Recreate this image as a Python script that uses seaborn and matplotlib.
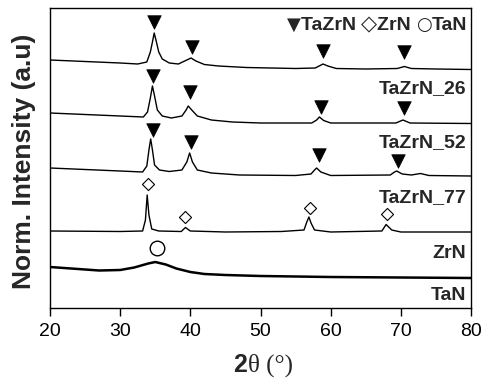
import numpy as np
import pandas as pd
import matplotlib
matplotlib.use("Agg")
import matplotlib.pyplot as plt
import seaborn as sns

# ---------------- data (stacked, arbitrary units) ----------------
x_26 = [20, 25, 30, 32.5, 33.8, 34.3, 34.6, 34.85, 35.1, 35.5, 36.0, 37.0, 38.3, 39.5, 40.1, 40.8,
        42, 44, 48, 55, 57.8, 58.5, 58.9, 59.6, 60.8, 65, 69.5, 70.5, 71.5, 75, 80]
y_26 = [248, 246.5, 245, 244, 246, 256, 266, 275, 268, 256, 249, 245, 244, 248, 250, 247,
        243.5, 242, 240.5, 239.5, 240, 242.5, 244, 242, 239.5, 239, 239.5, 241.5, 239.5, 239, 238.5]

x_52 = [20, 25, 30, 33.3, 33.9, 34.3, 34.6, 34.9, 35.3, 36, 37.3, 38.8, 39.4, 39.7, 40.2, 41,
        43, 46, 50, 57.3, 58.0, 58.4, 59.0, 60, 69.3, 70.3, 71.3, 80]
y_52 = [195, 193.5, 192, 191, 196, 210, 222, 212, 198, 192, 190, 192, 198, 202, 198, 192,
        188, 186, 185, 185, 188, 191, 187.5, 185, 185, 188, 185, 184.5]

x_77 = [20, 25, 30, 33.2, 33.8, 34.1, 34.35, 34.6, 34.9, 35.6, 37, 38.8, 39.5, 39.9, 40.3, 41,
        43, 47, 55, 57.2, 57.7, 58.0, 58.6, 60, 68.5, 69.1, 69.4, 70.2, 71.5, 72.8, 74, 80]
y_77 = [140, 138.5, 137, 136, 142, 158, 169, 158, 143, 138, 136.5, 138, 146, 155, 146, 138,
        135, 133, 132.5, 134, 138, 140, 136, 132.5, 133, 136, 137, 134, 133, 134.5, 132.5, 132]

x_zrn = [20, 30, 33.2, 33.6, 33.85, 34.1, 34.5, 35.5, 38.7, 39.3, 40.0, 45, 53, 56.2, 56.6, 56.9,
         57.2, 57.7, 60, 67.3, 67.9, 68.7, 70, 80]
y_zrn = [77, 76.5, 77, 88, 113, 93, 79, 77, 76.5, 80.5, 77, 76, 76.5, 78, 86, 91,
         85, 78, 76, 77, 83.5, 78, 76, 76]

x_tan = [20, 23, 27, 30, 32, 34, 35, 36.5, 38, 40, 42, 45, 50, 60, 70, 80]
y_tan = [41, 39.5, 37.5, 38, 40.5, 44.5, 46, 43.5, 39.5, 36, 34, 33, 32, 31, 30.5, 30]

series_names = ["TaZrN_26", "TaZrN_52", "TaZrN_77", "ZrN", "TaN"]
label_y = [215, 161, 106, 50, 8]

# phase markers
tri_x = [34.86, 40.3, 58.86, 70.43, 34.7, 40.0, 58.6, 70.4, 34.7, 40.1, 58.3, 69.6]
tri_y = [286, 261, 257, 256, 232, 216, 201, 200, 178, 166, 153, 147]
dia_x = [33.9, 39.3, 57.0, 68.0]
dia_y = [124, 91, 100, 94]
circ_x = [35.3]
circ_y = [60]

legend_parts = ["▼", "TaZrN ", "◇", "ZrN ", "○", "TaN"]

xticks = [20, 30, 40, 50, 60, 70, 80]

# ---------------- figure ----------------
sns.set_style("ticks")
plt.rcParams["font.family"] = ["Liberation Sans", "DejaVu Sans"]

fig = plt.figure(figsize=(4.83, 3.80), dpi=100)
ax = fig.add_axes([50 / 483, 1 - 308 / 380, 421 / 483, 300 / 380])

curves = [(x_26, y_26, 1.0), (x_52, y_52, 1.0), (x_77, y_77, 1.0),
          (x_zrn, y_zrn, 1.0), (x_tan, y_tan, 1.8)]
for (xs, ys, lw), name in zip(curves, series_names):
    df = pd.DataFrame({"x": xs, "y": ys})
    sns.lineplot(data=df, x="x", y="y", ax=ax, color="black", linewidth=lw,
                 estimator=None, sort=False)

sns.scatterplot(x=tri_x, y=tri_y, ax=ax, marker="v", s=95, color="black",
                edgecolor="black", linewidth=0.5, zorder=5)
sns.scatterplot(x=dia_x, y=dia_y, ax=ax, marker="D", s=38, facecolor="white",
                edgecolor="black", linewidth=0.8, zorder=5)
sns.scatterplot(x=circ_x, y=circ_y, ax=ax, marker="o", s=110, facecolor="white",
                edgecolor="black", linewidth=1.0, zorder=5)

for name, yl in zip(series_names, label_y):
    ax.text(79.3, yl, name, ha="right", va="baseline", fontsize=14, fontweight="bold")

# legend text built right-to-left from pieces, right edge fixed
sym_sizes = {"▼": 13, "◇": 15, "○": 13}
t_prev = None
for part in reversed(legend_parts):
    kw = dict(fontsize=sym_sizes[part], family=["DejaVu Sans"]) if part in sym_sizes \
        else dict(fontsize=14, fontweight="bold")
    if t_prev is None:
        t_prev = ax.text(79.5, 278, part, ha="right", va="baseline", **kw)
    else:
        t_prev = ax.annotate(part, xy=(0, 0), xycoords=t_prev, xytext=(0, 0),
                             textcoords="offset points", ha="right", va="bottom",
                             annotation_clip=False, **kw)

ax.set_xlim(20, 80)
ax.set_ylim(0, 300)
ax.set_xticks(xticks)
ax.set_xticklabels([str(t) for t in xticks], fontsize=14)
ax.set_yticks([])
ax.tick_params(axis="x", direction="out", length=6, width=1, pad=5, colors="black")
for sp in ax.spines.values():
    sp.set_visible(True)
    sp.set_linewidth(1.0)
    sp.set_color("black")
ax.set_xlabel("")
ax.set_ylabel("")

fig.text(24 / 483, 1 - 161 / 380, "Norm. Intensity (a.u)", rotation=90, ha="center",
         va="center", fontsize=19, fontweight="bold")

t2 = fig.text(233 / 483, 1 - 372 / 380, "2", ha="left", va="baseline", fontsize=18,
              fontweight="bold")
ax.annotate("θ (°)", xy=(1, 0), xycoords=t2, xytext=(1, 0), textcoords="offset points",
            ha="left", va="bottom", fontsize=18, family=["Liberation Serif", "DejaVu Serif"],
            annotation_clip=False)

fig.savefig("out.png", dpi=100, facecolor="white")
